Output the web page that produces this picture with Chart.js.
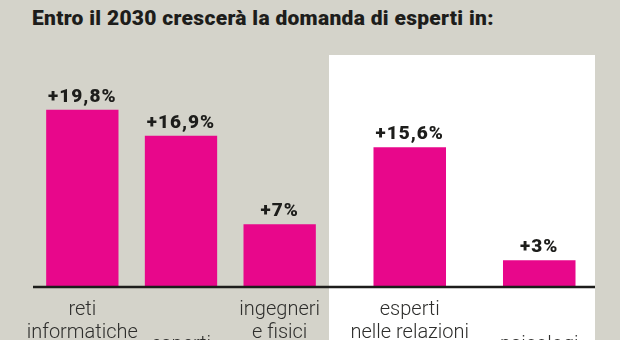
<!DOCTYPE html>
<html lang="it">
<head>
<meta charset="utf-8">
<script src="https://cdn.jsdelivr.net/npm/chart.js@4.4.1/dist/chart.umd.min.js"></script>
<style>
  html, body { margin: 0; padding: 0; }
  body { width: 620px; height: 340px; background: #d4d3ca; position: relative; overflow: hidden; font-family: Roboto, sans-serif; }
  #titolo { position: absolute; left: 32px; top: 8px; font-size: 21px; line-height: 20px; font-weight: 900; letter-spacing: 0.3px; color: #1d1d1b; white-space: nowrap; }
  #pannello { position: absolute; left: 329px; top: 55px; width: 266px; height: 285px; background: #fff; }
  .box { position: absolute; top: 0; height: 340px; }
  #boxSx { left: 0; width: 329px; }
  #boxDx { left: 329px; width: 291px; }
</style>
</head>
<body>
<div id="titolo">Entro il 2030 crescerà la domanda di esperti in:</div>
<div id="pannello"></div>
<div class="box" id="boxSx"><canvas id="chartSx"></canvas></div>
<div class="box" id="boxDx"><canvas id="chartDx"></canvas></div>
<script>
// crescita % della domanda entro il 2030
const categorieSx = [['reti', 'informatiche'], 'esperti', ['ingegneri', 'e fisici']];
const valoriSx = [19.8, 16.9, 7];
const categorieDx = [['esperti', 'nelle relazioni'], 'psicologi'];
const valoriDx = [15.6, 3];
const maxAsse = 22;

const fucsia = '#e8078b';
const nero = '#1d1d1b';

// valore sopra ogni barra: "+19,8%"
const etichette = {
    id: 'etichette',
    afterDatasetsDraw(chart) {
        const ctx = chart.ctx;
        const valori = chart.data.datasets[0].data;
        ctx.save();
        ctx.font = '900 19px Roboto';
        ctx.letterSpacing = '1px';
        ctx.fillStyle = nero;
        ctx.textAlign = 'center';
        ctx.textBaseline = 'alphabetic';
        chart.getDatasetMeta(0).data.forEach((bar, i) => {
            ctx.fillText('+' + valori[i].toLocaleString('it-IT') + '%', bar.x, bar.y - 8);
        });
        ctx.restore();
    }
};

// linea di base nera sotto le barre
const lineaBase = {
    id: 'lineaBase',
    afterDatasetsDraw(chart, args, opts) {
        const ctx = chart.ctx;
        const y = chart.scales.y.getPixelForValue(0);
        ctx.save();
        ctx.strokeStyle = nero;
        ctx.lineWidth = 2.5;
        ctx.beginPath();
        ctx.moveTo(opts.da, y);
        ctx.lineTo(opts.a, y);
        ctx.stroke();
        ctx.restore();
    }
};

function creaGrafico(id, categorie, valori, larghezza, margini, linea) {
    return new Chart(document.getElementById(id), {
        type: 'bar',
        data: {
            labels: categorie,
            datasets: [{
                data: valori,
                backgroundColor: fucsia,
                barPercentage: larghezza,
                categoryPercentage: 1
            }]
        },
        options: {
            responsive: true,
            maintainAspectRatio: false,
            animation: false,
            layout: { padding: { left: margini[0], right: margini[1], top: 90, bottom: 0 } },
            plugins: {
                legend: { display: false },
                tooltip: { enabled: false },
                lineaBase: linea
            },
            scales: {
                x: {
                    grid: { display: false },
                    border: { display: false },
                    ticks: {
                        padding: 3,
                        color: '#2e2e2c',
                        maxRotation: 0,
                        autoSkip: false,
                        // le etichette su una riga stanno più in basso
                        font: (c) => ({
                            family: 'Roboto',
                            size: 20,
                            weight: 300,
                            lineHeight: (c.tick && !Array.isArray(c.tick.label)) ? 4.7 : 1.17
                        })
                    },
                    afterFit: (scala) => { scala.height = 53; }
                },
                y: { display: false, min: 0, max: maxAsse }
            }
        },
        plugins: [etichette, lineaBase]
    });
}

creaGrafico('chartSx', categorieSx, valoriSx, 0.733, [33, 0], { da: 33, a: 329 });
creaGrafico('chartDx', categorieDx, valoriDx, 0.56, [16, 16], { da: 0, a: 266 });
</script>
</body>
</html>
